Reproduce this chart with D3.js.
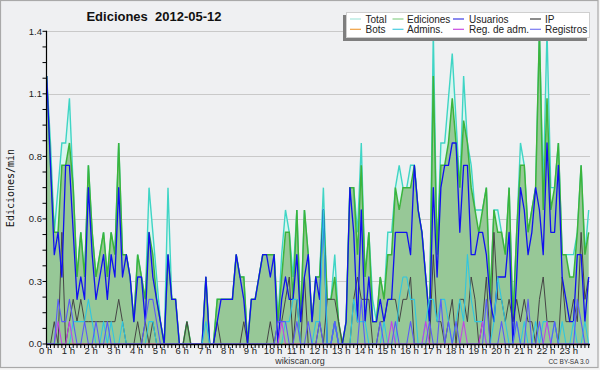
<!DOCTYPE html>
<html><head><meta charset="utf-8">
<script src="https://cdn.jsdelivr.net/npm/d3@7"></script>
<style>html,body{margin:0;padding:0;background:#f4f4f4}svg{display:block}</style>
</head><body><svg id="c" width="600" height="370"></svg>
<script>
// ---- data: edits per minute, one value per 10-minute bin (00:00 .. 23:50) ----
const total = [
1.2,0.9,0.5,0.7,0.9,0.9,1.1,0.7,0.3,0.5, 0.3,0.8,0.5,0.3,0.4,0.5,0.3,0.5,0.4,0.9,
0.4,0.4,0.3,0.1,0.4,0.3,0.2,0.7,0.5,0.3, 0.1,0,0.7,0.2,0.2,0,0,0.1,0,0,
0,0,0.3,0,0,0.2,0.2,0.2,0.2,0.2, 0.4,0.3,0.3,0,0.2,0.2,0.3,0.4,0.4,0.4,
0.4,0.1,0.4,0.6,0.5,0.3,0.6,0.1,0.6,0.4, 0.1,0.3,0.3,0.7,0.2,0.2,0.4,0.1,0,0.1,
0.7,0.7,0.5,0.9,0.3,0.5,0.2,0.1,0.3,0.2, 0.5,0.5,0.7,0.8,0.7,0.7,0.8,0.8,0.6,0.5,
0.3,0.1,1.4,0.4,0.9,0.9,1.1,1.3,1.0,0.7, 1.2,0.9,0.8,0.6,0.6,0.6,0.7,0.2,0.6,0.6,
0.5,0.4,0.7,0.1,0.5,0.9,0.8,0.5,0.6,0.7, 1.4,0.7,1.4,0.7,0.7,0.9,0.4,0.4,0.4,0.4,
0.5,0.8,0.4,0.6];
const ediciones = [
1.2,0.8,0.5,0.5,0.8,0.8,0.9,0.7,0.3,0.5, 0.3,0.8,0.5,0.3,0.4,0.5,0.3,0.5,0.4,0.9,
0.4,0.4,0.3,0.1,0.4,0.3,0.2,0.5,0.4,0.2, 0.1,0,0.4,0.2,0.2,0,0,0.1,0,0,
0,0,0.3,0,0,0.2,0.2,0.2,0.2,0.2, 0.4,0.3,0.3,0,0.2,0.2,0.3,0.4,0.4,0.4,
0.4,0.1,0.3,0.5,0.5,0.2,0.6,0.1,0.6,0.4, 0.1,0.3,0.3,0.6,0.2,0.2,0.3,0.1,0,0.1,
0.7,0.7,0.4,0.8,0.3,0.5,0.1,0.1,0.3,0.2, 0.4,0.4,0.7,0.6,0.7,0.7,0.7,0.8,0.6,0.5,
0.3,0.1,1.2,0.4,0.8,0.8,0.9,1.1,0.9,0.7, 1.0,0.9,0.7,0.6,0.5,0.6,0.7,0.2,0.6,0.5,
0.5,0.4,0.7,0.1,0.5,0.8,0.8,0.5,0.6,0.7, 1.4,0.6,1.1,0.6,0.7,0.9,0.4,0.4,0.3,0.3,
0.5,0.8,0.4,0.5];
const usuarios = [
1.2,0.8,0.4,0.5,0.3,0.8,0.8,0.5,0.2,0.3, 0.2,0.7,0.4,0.2,0.3,0.4,0.2,0.4,0.3,0.7,
0.3,0.4,0.3,0.1,0.3,0.3,0.1,0.5,0.3,0.2, 0.1,0,0.4,0.2,0.2,0,0,0,0,0,
0,0,0.3,0,0,0.1,0.2,0.2,0.2,0.2, 0.4,0.3,0.2,0,0.2,0.2,0.3,0.4,0.4,0.3,
0.4,0,0.2,0.3,0.2,0.2,0.4,0.1,0.3,0.4, 0.1,0.3,0.2,0.6,0,0,0.1,0,0,0.1,
0.7,0.5,0.1,0.6,0.1,0.3,0.1,0.1,0.2,0.1, 0.2,0.2,0.5,0.5,0.5,0.5,0.4,0.8,0.6,0.5,
0.3,0.1,0.7,0.3,0.7,0.8,0.8,0.9,0.9,0.5, 0.8,0.8,0.4,0.4,0.5,0.5,0.4,0.2,0.1,0.3,
0.3,0.3,0.5,0,0.3,0.7,0.6,0.4,0.5,0.7, 0.6,0.4,0.9,0.5,0.5,0.8,0.3,0.2,0.1,0.1,
0.4,0.4,0.1,0.3];
const ip = [
0,0,0.1,0,0.5,0,0.1,0.2,0.1,0.2, 0.1,0.1,0.1,0.1,0.1,0.1,0.1,0.1,0.1,0.2,
0.1,0,0,0,0.1,0,0.1,0,0.1,0, 0,0,0,0,0,0,0,0.1,0,0,
0,0,0,0,0,0.1,0,0,0,0, 0,0,0.1,0,0,0,0,0,0,0.1,
0,0.1,0.1,0.2,0.3,0,0.2,0,0.3,0, 0,0,0.1,0,0.2,0.2,0.2,0.1,0,0,
0,0.2,0.3,0.2,0.2,0.2,0,0,0.1,0.1, 0.2,0.2,0.2,0.1,0.2,0.2,0.3,0,0,0,
0,0,0.4,0.1,0.1,0,0.1,0.2,0,0.2, 0.2,0.1,0.3,0.2,0,0.1,0.3,0,0.5,0.2,
0.2,0.1,0.2,0.1,0.2,0.1,0.2,0.1,0.1,0, 0.2,0.3,0.1,0.1,0.1,0,0.3,0.1,0.1,0.2,
0.1,0.5,0.2,0.3];
const bots = [
0,0,0,0,0,0,0,0,0,0, 0,0,0,0,0,0,0,0,0,0, 0,0,0,0,0,0,0,0,0,0, 0,0,0,0,0,0,0,0,0,0,
0,0,0,0,0,0,0,0,0,0, 0,0,0,0,0,0,0,0,0,0, 0,0,0,0,0,0,0,0,0,0, 0,0,0,0,0,0,0,0,0,0,
0,0,0,0,0,0,0,0,0,0, 0,0,0,0,0,0,0,0,0,0, 0,0,0,0,0,0,0,0,0,0, 0,0,0,0,0,0,0,0,0,0,
0,0,0,0,0,0,0,0,0,0, 0,0,0,0,0,0,0,0,0,0, 0,0,0,0];
const admins = [
0,0,0,0,0,0,0,0.1,0.1,0.1, 0.1,0.2,0.1,0,0,0.1,0,0.1,0,0,
0.1,0,0,0,0,0,0,0.1,0.1,0, 0,0,0,0,0,0,0,0,0,0,
0,0,0.1,0,0,0,0,0,0,0, 0,0,0,0,0,0,0,0,0,0,
0,0,0,0.1,0.1,0.2,0.2,0,0,0, 0,0.1,0.1,0.6,0,0,0.1,0,0,0,
0,0.2,0.1,0.1,0.1,0,0,0,0,0.1, 0,0,0,0.2,0.3,0.3,0.2,0.2,0,0,
0.1,0.2,0.2,0.1,0.2,0.2,0.1,0,0.1,0.2, 0.1,0.4,0.2,0.1,0.1,0.1,0,0,0.1,0.3,
0.2,0.1,0,0,0.1,0,0.1,0,0,0.1, 0,0.1,0.1,0,0.1,0,0.1,0,0,0.1,
0,0,0.1,0];
const regAdm = [
0,0,0,0.1,0,0,0.1,0,0,0, 0,0,0,0,0,0,0,0,0,0, 0,0,0,0,0,0,0,0,0,0, 0,0,0,0,0,0,0,0,0,0,
0,0,0,0,0,0,0,0,0,0, 0,0,0,0,0,0,0,0,0,0, 0,0,0.1,0,0,0,0,0,0,0, 0,0,0,0,0,0,0,0,0,0,
0,0,0,0,0,0,0,0,0,0, 0,0.1,0,0,0,0,0,0,0,0, 0.1,0,0,0,0,0,0,0,0,0, 0.1,0,0,0,0,0.1,0,0,0,0,
0,0,0,0,0,0,0,0,0,0, 0,0,0.1,0,0,0,0,0,0,0, 0,0,0,0];
const registros = [
0,0,0,0.2,0.1,0.1,0.2,0.1,0,0, 0.1,0,0,0.1,0,0,0.1,0,0,0,
0,0,0,0,0,0,0.1,0.2,0.2,0.1, 0,0,0,0,0,0,0,0,0,0,
0,0,0,0,0,0,0,0,0,0, 0,0,0,0,0,0,0,0,0,0,
0,0.1,0.1,0.1,0,0,0.1,0,0,0.1, 0,0,0.1,0,0,0,0.1,0,0,0,
0,0,0,0.2,0,0,0,0,0.1,0, 0,0,0.1,0,0,0,0.1,0,0,0,
0,0.1,0,0,0.2,0,0.1,0,0.1,0, 0,0,0,0,0,0,0.2,0,0,0,
0.1,0,0,0,0.1,0,0,0.2,0,0, 0.1,0,0,0,0.1,0,0,0,0,0,
0.2,0.1,0,0];

const seriesNames = ["Total","Ediciones","Usuarios","IP","Bots","Admins.","Reg. de adm.","Registros"];
const yTicks = [0, 0.28, 0.56, 0.84, 1.12, 1.4];
const yTickLabels = ["0.0","0.3","0.6","0.8","1.1","1.4"];
const hourLabels = ["0 h","1 h","2 h","3 h","4 h","5 h","6 h","7 h","8 h","9 h","10 h","11 h",
  "12 h","13 h","14 h","15 h","16 h","17 h","18 h","19 h","20 h","21 h","22 h","23 h"];
const titleText = "Ediciones\u00a0\u00a02012-05-12";
const yAxisTitle = "Ediciones/min";

// ---- drawing ----
const svg = d3.select("#c");
const FONT = "'Liberation Sans', Arial, sans-serif";
const L = 46.5, R = 590, T = 31.3, B = 344;
const x = d3.scaleLinear().domain([0, 143]).range([46.7, 588.7]);
const y = d3.scaleLinear().domain([0, 1.4]).range([B, T]);
const idx = d3.range(total.length);

svg.append("rect").attr("x",0).attr("y",0).attr("width",600).attr("height",370).attr("fill","#f4f4f4");
svg.append("rect").attr("x",0.5).attr("y",0.5).attr("width",597.5).attr("height",367)
  .attr("fill","#eff0f2").attr("stroke","#a9a9a9").attr("stroke-width",1.2);

// grid
svg.append("g").selectAll("line").data(yTicks.slice(1)).join("line")
  .attr("x1",L).attr("x2",R).attr("y1",d=>Math.round(y(d))+0.5).attr("y2",d=>Math.round(y(d))+0.5)
  .attr("stroke","#c9c9c9").attr("stroke-width",1);

const plot = svg.append("g");
const area = vals => d3.area().x(i=>x(i)).y0(B).y1(i=>y(vals[i]))(idx);
const line = vals => d3.line().x(i=>x(i)).y(i=>y(vals[i]))(idx);

plot.append("path").attr("d", area(total)).attr("fill","#daf5ef");
plot.append("path").attr("d", line(total)).attr("fill","none").attr("stroke","#3fd5c5").attr("stroke-width",1.4);
plot.append("path").attr("d", area(ediciones)).attr("fill","#97c897");
plot.append("path").attr("d", line(ediciones)).attr("fill","none").attr("stroke","#3cb43c").attr("stroke-width",1.5);

const lineSeries = [
  {v: bots, c: "#f0a040", w: 1},
  {v: ip, c: "#454545", w: 1},
  {v: usuarios, c: "#1010f0", w: 1.3},
  {v: admins, c: "#30c6e0", w: 1.1},
  {v: regAdm, c: "#c444e4", w: 1.1},
  {v: registros, c: "#5a5af8", w: 1.1}
];
lineSeries.forEach(s => {
  plot.append("path").attr("d", line(s.v)).attr("fill","none")
    .attr("stroke", s.c).attr("stroke-width", s.w).attr("stroke-linejoin","round");
});

// axes
const ax = svg.append("g").attr("stroke","#000");
ax.append("line").attr("x1",L).attr("x2",L).attr("y1",T-0.5).attr("y2",B+0.5).attr("stroke-width",1.2);
ax.selectAll(".yt").data(d3.range(0, 21)).join("line")
  .attr("x1",L-4).attr("x2",L).attr("y1",d=>y(d*0.07)).attr("y2",d=>y(d*0.07)).attr("stroke-width",1);
ax.append("line").attr("x1",L-0.5).attr("x2",R).attr("y1",B+0.5).attr("y2",B+0.5).attr("stroke-width",1.3);
ax.selectAll(".xt").data(idx).join("line")
  .attr("x1",i=>x(i)).attr("x2",i=>x(i)).attr("y1",B).attr("y2",B+4).attr("stroke-width",1);

svg.append("g").selectAll("text").data(yTicks).join("text")
  .attr("x",42).attr("y",d=>y(d)).attr("dy","0.35em").attr("text-anchor","end")
  .attr("font-family",FONT).attr("font-size",9.5).attr("fill","#222")
  .text((d,i)=>yTickLabels[i]);

svg.append("g").selectAll("text").data(hourLabels).join("text")
  .attr("x",(d,h)=>x(h*6)-1).attr("y",353.5).attr("text-anchor","middle")
  .attr("font-family",FONT).attr("font-size",9.5).attr("fill","#222")
  .text(d=>d);

// titles
svg.append("text").attr("x",154).attr("y",21).attr("text-anchor","middle")
  .attr("font-family",FONT).attr("font-weight","bold").attr("font-size",13).attr("fill","#111")
  .text(titleText);
svg.append("text").attr("transform","translate(14,188) rotate(-90)").attr("text-anchor","middle")
  .attr("font-family","'DejaVu Sans Mono', monospace").attr("font-size",10).attr("fill","#111")
  .text(yAxisTitle);
svg.append("text").attr("x",300).attr("y",363.5).attr("text-anchor","middle")
  .attr("font-family",FONT).attr("font-size",9).attr("fill","#333").text("wikiscan.org");
svg.append("text").attr("x",589).attr("y",364).attr("text-anchor","end")
  .attr("font-family",FONT).attr("font-size",6.5).attr("fill","#333").text("CC BY-SA 3.0");

// legend
const legColors = ["#a8e6dc","#8ad08a","#3c3ce4","#404040","#f0a040","#48cce0","#c84ae0","#7a7af2"];
const colSw = [350, 392.5, 453, 530], colTx = [365.5, 407, 469, 545];
const lg = svg.append("g");
lg.append("rect").attr("x",343).attr("y",15).attr("width",244).attr("height",26).attr("fill","#7e7e7e");
lg.append("rect").attr("x",346.5).attr("y",12.5).attr("width",243).attr("height",25).attr("fill","#fff").attr("stroke","#cfcfcf");
seriesNames.forEach((n,k) => {
  const c = k % 4, r = Math.floor(k / 4);
  const yy = r === 0 ? 19 : 29.3;
  lg.append("line").attr("x1",colSw[c]).attr("x2",colSw[c]+11).attr("y1",yy).attr("y2",yy)
    .attr("stroke",legColors[k]).attr("stroke-width",1.2);
  lg.append("text").attr("x",colTx[c]).attr("y",r === 0 ? 22.5 : 32.5)
    .attr("font-family",FONT).attr("font-size",10).attr("fill","#222").text(n);
});
</script></body></html>
